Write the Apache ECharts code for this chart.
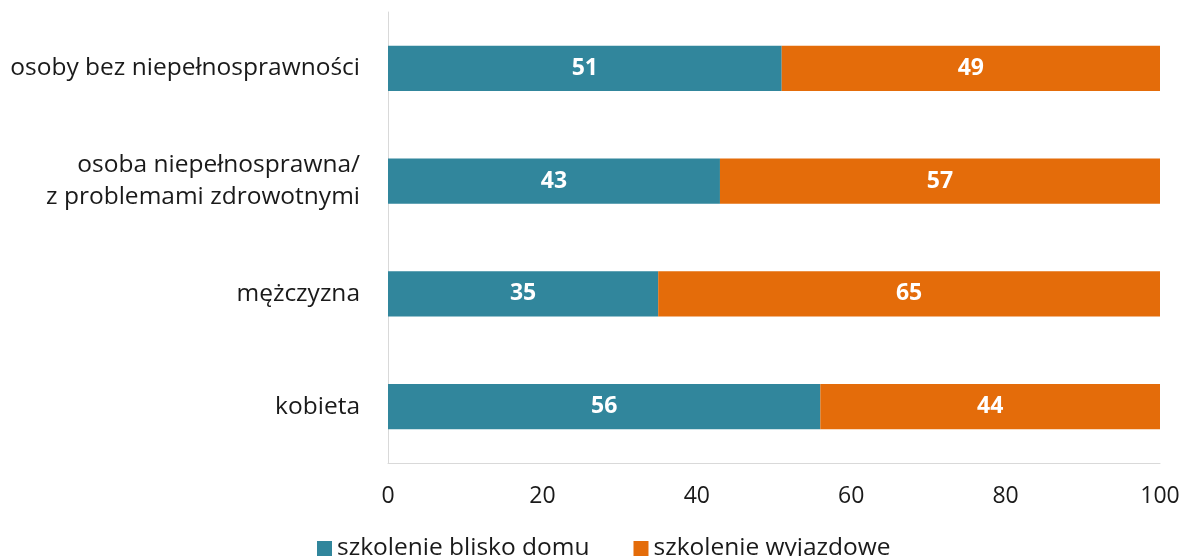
<!DOCTYPE html>
<html>
<head>
<meta charset="utf-8">
<script src="https://cdn.jsdelivr.net/npm/echarts@6/dist/echarts.min.js"></script>
<style>
  html, body { margin: 0; padding: 0; background: #fff; }
  #chart { width: 1184px; height: 556px; }
</style>
</head>
<body>
<div id="chart"></div>
<script>
// kategorie od dołu do góry
var categories = [
  "kobieta",
  "mężczyzna",
  "osoba niepełnosprawna/\nz problemami zdrowotnymi",
  "osoby bez niepełnosprawności"
];
var blisko = [56, 35, 43, 51];
var wyjazdowe = [44, 65, 57, 49];
var ticks = [0, 20, 40, 60, 80, 100];

var font = "'Open Sans', 'Liberation Sans', sans-serif";

var chart = echarts.init(document.getElementById("chart"));
chart.setOption({
  animation: false,
  textStyle: { fontFamily: font },
  grid: { left: 388, right: 24, top: 12, bottom: 93 },
  legend: {
    top: 531,
    left: 312,
    itemWidth: 15,
    itemHeight: 15,
    itemGap: 44,
    icon: "rect",
    textStyle: { fontSize: 24.5, color: "#1a1a1a", fontFamily: font },
    data: ["szkolenie blisko domu", "szkolenie wyjazdowe"]
  },
  xAxis: {
    type: "value",
    min: ticks[0],
    max: ticks[ticks.length - 1],
    interval: 20,
    axisLabel: { fontSize: 23, color: "#1a1a1a", margin: 22 },
    splitLine: { show: false },
    axisLine: { show: true, lineStyle: { color: "#d9d9d9" } },
    axisTick: { show: false }
  },
  yAxis: {
    type: "category",
    data: categories,
    axisLabel: { fontSize: 24.5, color: "#1a1a1a", margin: 28, lineHeight: 32, align: "right" },
    axisLine: { show: true, lineStyle: { color: "#d9d9d9" } },
    axisTick: { show: false }
  },
  series: [
    {
      name: "szkolenie blisko domu",
      type: "bar",
      stack: "total",
      barWidth: "40%",
      data: blisko,
      itemStyle: { color: "#31869c" },
      label: { show: true, position: "inside", color: "#fff", fontSize: 23, fontWeight: "bold" }
    },
    {
      name: "szkolenie wyjazdowe",
      type: "bar",
      stack: "total",
      barWidth: "40%",
      data: wyjazdowe,
      itemStyle: { color: "#e46c0a" },
      label: { show: true, position: "inside", color: "#fff", fontSize: 23, fontWeight: "bold" }
    }
  ]
});
</script>
</body>
</html>
